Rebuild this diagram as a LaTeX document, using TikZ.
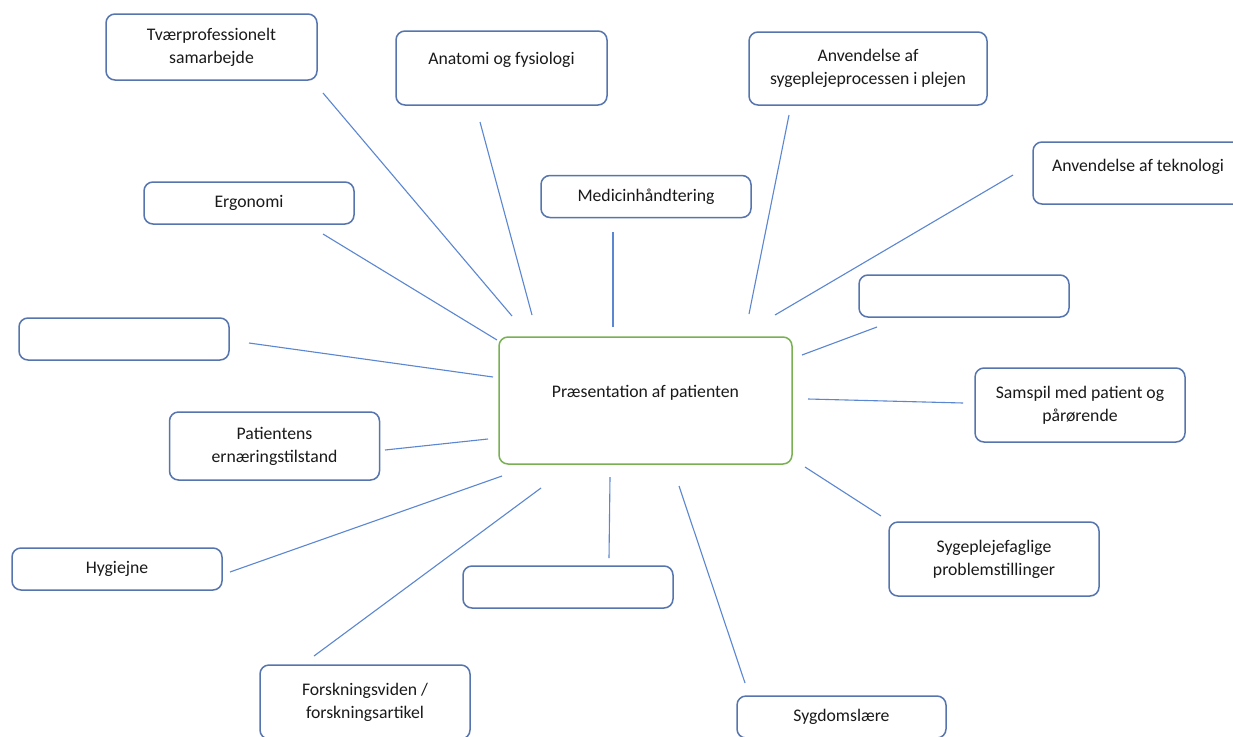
\documentclass[tikz,border=0pt]{standalone}
\usepackage{fontspec}
\setmainfont{Carlito}
\definecolor{boxblue}{HTML}{5675AE}
\definecolor{linkblue}{HTML}{5B86D1}
\definecolor{hubgreen}{HTML}{78B052}
\definecolor{txt}{HTML}{1A1A1A}

\begin{document}
\begin{tikzpicture}[x=1pt, y=-1pt, font=\fontsize{17.7}{23}\selectfont, text=txt,
  box/.style={draw=boxblue, fill=white, rounded corners=9pt, align=center, minimum width=210pt, minimum height=42pt, inner sep=2pt, line width=1.5pt},
  hub/.style={box, draw=hubgreen, minimum width=293pt, minimum height=127pt},
  link/.style={draw=linkblue, line width=1.1pt}]
\path[fill=white, use as bounding box] (0,0) rectangle (1233,736);
% centre
\node[hub, text depth=18pt] (hub) at (645.5,400.5) {Præsentation af patienten};
% topics
\node[box, minimum width=211pt, minimum height=66pt] (tvaer) at (211.5,47) {Tværprofessionelt\\samarbejde};
\node[box, minimum width=211pt, minimum height=74pt, text depth=20pt] (anatomi) at (501.5,68) {Anatomi og fysiologi};
\node[box, minimum width=238pt, minimum height=73pt] (proces) at (868,68.5) {Anvendelse af\\sygeplejeprocessen i plejen};
\node[box, minimum height=62pt, text depth=16pt] (tekno) at (1138,173) {Anvendelse af teknologi};
\node[box] (medicin) at (646,196.5) {Medicinhåndtering};
\node[box] (ergo) at (249,203) {Ergonomi};
\node[box] (tomO) at (964,296) {};
\node[box] (tomV) at (124,339) {};
\node[box, minimum height=74pt] (samspil) at (1080,405) {Samspil med patient og\\pårørende};
\node[box, minimum height=68pt] (ernaering) at (274.5,446) {Patientens\\ernæringstilstand};
\node[box, minimum height=74pt] (problem) at (994,559) {Sygeplejefaglige\\problemstillinger};
\node[box] (hygiejne) at (117,569) {Hygiejne};
\node[box] (tomN) at (568,587) {};
\node[box, minimum height=74pt] (forskning) at (365,702) {Forskningsviden /\\forskningsartikel};
\node[box, minimum width=209pt] (sygdom) at (841.5,717) {Sygdomslære};
% line ends (the lines stop short of the boxes)
\coordinate (tvaer-a) at (323,93);      \coordinate (tvaer-b) at (512,316);
\coordinate (anatomi-a) at (480,122);   \coordinate (anatomi-b) at (532,315);
\coordinate (proces-a) at (789,115);    \coordinate (proces-b) at (749,314);
\coordinate (tekno-a) at (1013,175);    \coordinate (tekno-b) at (775,315);
\coordinate (medicin-a) at (613,232);   \coordinate (medicin-b) at (613,327);
\coordinate (ergo-a) at (323,234);      \coordinate (ergo-b) at (497,340);
\coordinate (tomO-a) at (877,327);      \coordinate (tomO-b) at (802,355);
\coordinate (tomV-a) at (249,343);      \coordinate (tomV-b) at (493,377);
\coordinate (samspil-a) at (963,403);   \coordinate (samspil-b) at (808,399);
\coordinate (ernaering-a) at (385,450); \coordinate (ernaering-b) at (488,439);
\coordinate (problem-a) at (881,516);   \coordinate (problem-b) at (805,467);
\coordinate (hygiejne-a) at (230,572);  \coordinate (hygiejne-b) at (502,476);
\coordinate (tomN-a) at (609,558);      \coordinate (tomN-b) at (610,477);
\coordinate (forskning-a) at (314,656); \coordinate (forskning-b) at (541,488);
\coordinate (sygdom-a) at (745,683);    \coordinate (sygdom-b) at (679,486);
\draw[link] (tvaer-a) -- (tvaer-b); \draw[link] (anatomi-a) -- (anatomi-b); \draw[link] (proces-a) -- (proces-b);
\draw[link] (tekno-a) -- (tekno-b); \draw[link] (medicin-a) -- (medicin-b); \draw[link] (ergo-a) -- (ergo-b);
\draw[link] (tomO-a) -- (tomO-b); \draw[link] (tomV-a) -- (tomV-b); \draw[link] (samspil-a) -- (samspil-b);
\draw[link] (ernaering-a) -- (ernaering-b); \draw[link] (problem-a) -- (problem-b); \draw[link] (hygiejne-a) -- (hygiejne-b);
\draw[link] (tomN-a) -- (tomN-b); \draw[link] (forskning-a) -- (forskning-b); \draw[link] (sygdom-a) -- (sygdom-b);
\end{tikzpicture}
\end{document}
